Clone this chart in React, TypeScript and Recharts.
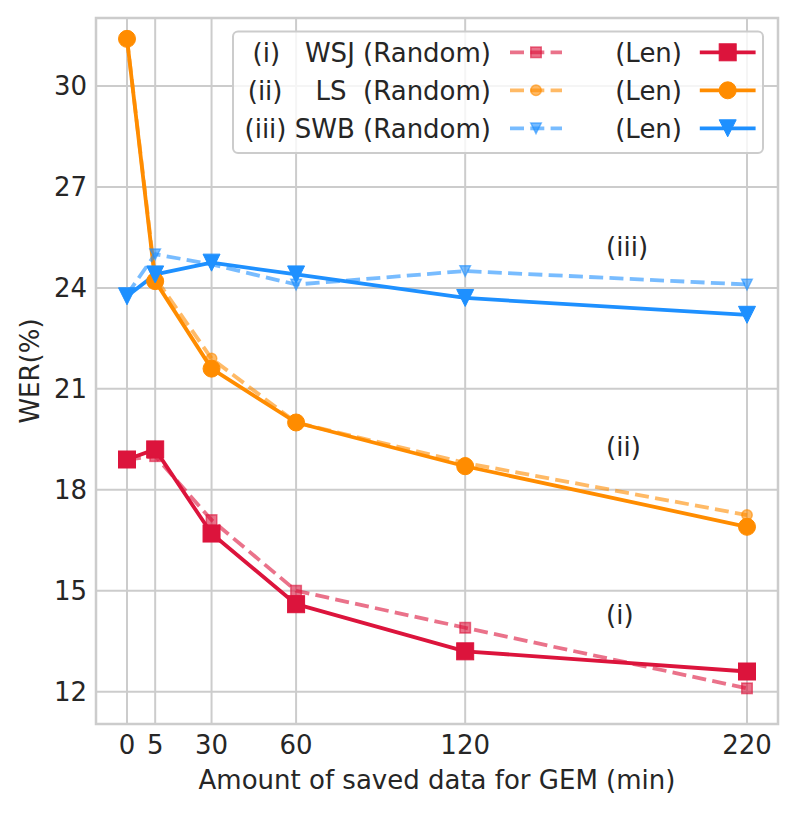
import {
  ComposedChart,
  Line,
  Scatter,
  XAxis,
  YAxis,
  CartesianGrid,
  ReferenceArea,
} from 'recharts';

// x positions used on the axis (the "5" point is drawn at 10 in the figure)
const xPositions = [0, 10, 30, 60, 120, 220];
const xTickLabels = ['0', '5', '30', '60', '120', '220'];
const yTicks = [12, 15, 18, 21, 24, 27, 30];

const wsjRandom = [18.9, 19.0, 17.1, 15.0, 13.9, 12.1];
const wsjLen = [18.9, 19.2, 16.7, 14.6, 13.2, 12.6];
const lsRandom = [31.4, 24.3, 21.9, 20.0, 18.8, 17.25];
const lsLen = [31.4, 24.2, 21.6, 20.0, 18.7, 16.9];
const swbRandom = [23.8, 25.0, 24.7, 24.1, 24.5, 24.1];
const swbLen = [23.75, 24.4, 24.75, 24.4, 23.7, 23.2];

const datasetTags = ['(i)   WSJ', '(ii)    LS ', '(iii) SWB'];
const datasetColors = ['#DC143C', '#FF8C00', '#1E90FF'];
const datasetShapes = ['square', 'circle', 'triangle'];

const annotationText = ['(i)', '(ii)', '(iii)'];
const annotationX = [170, 170, 170];
const annotationY = [14.25, 19.25, 25.2];

const X_DOMAIN: [number, number] = [-11, 231];
const Y_DOMAIN: [number, number] = [11.04, 32.02];

const FONT = "'DejaVu Sans', sans-serif";
const TEXT = '#262626';
const GRID = '#cccccc';
const LINE_W = 3.8;
const DASH = '14 6.3';

const rows = xPositions.map((x, i) => ({
  x,
  wsjRandom: wsjRandom[i],
  wsjLen: wsjLen[i],
  lsRandom: lsRandom[i],
  lsLen: lsLen[i],
  swbRandom: swbRandom[i],
  swbLen: swbLen[i],
}));

const annotations = annotationText.map((text, i) => ({
  x: annotationX[i],
  y: annotationY[i],
  text,
}));

const series = [
  { key: 'wsjRandom', ds: 0, faded: true },
  { key: 'wsjLen', ds: 0, faded: false },
  { key: 'lsRandom', ds: 1, faded: true },
  { key: 'lsLen', ds: 1, faded: false },
  { key: 'swbRandom', ds: 2, faded: true },
  { key: 'swbLen', ds: 2, faded: false },
];

function Marker({ cx, cy, shape, color, faded }: any) {
  const size = faded ? 10.5 : 17;
  const h = size / 2;
  const style = faded
    ? { fill: color, fillOpacity: 0.6, stroke: color, strokeOpacity: 0.6, strokeWidth: 1.5 }
    : { fill: color, stroke: color, strokeWidth: 1 };
  if (shape === 'square') {
    return <rect x={cx - h} y={cy - h} width={size} height={size} {...style} />;
  }
  if (shape === 'circle') {
    return <circle cx={cx} cy={cy} r={h} {...style} />;
  }
  return (
    <polygon
      points={`${cx - h},${cy - h} ${cx + h},${cy - h} ${cx},${cy + h}`}
      {...style}
    />
  );
}

function LegendBox() {
  return (
    <svg
      width={796}
      height={813}
      style={{ position: 'absolute', left: 0, top: 0, pointerEvents: 'none' }}
    >
      <rect
        x={233}
        y={31.5}
        width={530}
        height={121.5}
        rx={5}
        fill="#ffffff"
        fillOpacity={0.8}
        stroke={GRID}
        strokeWidth={2}
      />
      {datasetTags.map((tag, i) => {
        const cy = 52.3 + i * 38;
        const color = datasetColors[i];
        const shape = datasetShapes[i];
        return (
          <g key={tag}>
            <text
              x={491}
              y={cy + 9.3}
              textAnchor="end"
              xmlSpace="preserve"
              style={{ whiteSpace: 'pre' }}
              fontFamily={FONT}
              fontSize={26}
              fill={TEXT}
            >
              {`${tag} (Random)`}
            </text>
            <line
              x1={510}
              x2={562}
              y1={cy}
              y2={cy}
              stroke={color}
              strokeOpacity={0.6}
              strokeWidth={LINE_W}
              strokeDasharray={DASH}
            />
            <Marker cx={536} cy={cy} shape={shape} color={color} faded />
            <text
              x={682}
              y={cy + 9.3}
              textAnchor="end"
              fontFamily={FONT}
              fontSize={26}
              fill={TEXT}
            >
              (Len)
            </text>
            <line
              x1={701.7}
              x2={753.7}
              y1={cy}
              y2={cy}
              stroke={color}
              strokeWidth={LINE_W}
              strokeLinecap="square"
            />
            <Marker cx={727.7} cy={cy} shape={shape} color={color} faded={false} />
          </g>
        );
      })}
    </svg>
  );
}

const renderXLabel = (props: any) => {
  const vb = props.viewBox;
  return (
    <text
      x={vb.x + vb.width / 2}
      y={vb.y + 65}
      textAnchor="middle"
      fontFamily={FONT}
      fontSize={26}
      fill={TEXT}
    >
      Amount of saved data for GEM (min)
    </text>
  );
};

const renderYLabel = (props: any) => {
  const vb = props.viewBox;
  const cx = 38.5;
  const cy = vb.y + vb.height / 2;
  return (
    <text
      x={cx}
      y={cy}
      transform={`rotate(-90, ${cx}, ${cy})`}
      textAnchor="middle"
      fontFamily={FONT}
      fontSize={26}
      fill={TEXT}
    >
      WER(%)
    </text>
  );
};

export default function App() {
  return (
    <div
      style={{
        position: 'absolute',
        left: 0,
        top: 0,
        width: 796,
        height: 813,
        background: '#ffffff',
      }}
    >
      <ComposedChart
        width={796}
        height={813}
        data={rows}
        margin={{ top: 18, right: 18, bottom: 0, left: 0 }}
      >
        <CartesianGrid stroke={GRID} strokeWidth={2} />
        <XAxis
          type="number"
          dataKey="x"
          domain={X_DOMAIN}
          ticks={xPositions}
          interval={0}
          allowDataOverflow
          height={89}
          axisLine={false}
          tickLine={false}
          tickSize={0}
          tickMargin={11.5}
          tick={{ fill: TEXT, fontSize: 26, fontFamily: FONT }}
          tickFormatter={(v: number) => xTickLabels[xPositions.indexOf(v)]}
          label={renderXLabel}
        />
        <YAxis
          type="number"
          domain={Y_DOMAIN}
          ticks={yTicks}
          interval={0}
          allowDataOverflow
          width={96}
          axisLine={false}
          tickLine={false}
          tickSize={0}
          tickMargin={9}
          tick={{ fill: TEXT, fontSize: 26, fontFamily: FONT }}
          label={renderYLabel}
        />
        <ReferenceArea
          x1={X_DOMAIN[0]}
          x2={X_DOMAIN[1]}
          y1={Y_DOMAIN[0]}
          y2={Y_DOMAIN[1]}
          fill="none"
          stroke={GRID}
          strokeWidth={2.5}
          ifOverflow="visible"
        />
        {series.map((s) => {
          const color = datasetColors[s.ds];
          const shape = datasetShapes[s.ds];
          return (
            <Line
              key={s.key}
              dataKey={s.key}
              type="linear"
              stroke={color}
              strokeOpacity={s.faded ? 0.6 : 1}
              strokeWidth={LINE_W}
              strokeDasharray={s.faded ? DASH : undefined}
              strokeLinejoin="round"
              isAnimationActive={false}
              activeDot={false}
              dot={(p: any) => (
                <Marker
                  key={`${s.key}-${p.index}`}
                  cx={p.cx}
                  cy={p.cy}
                  shape={shape}
                  color={color}
                  faded={s.faded}
                />
              )}
            />
          );
        })}
        <Scatter
          data={annotations}
          dataKey="y"
          isAnimationActive={false}
          shape={(p: any) => (
            <text
              x={p.cx}
              y={p.cy + 8.2}
              textAnchor="start"
              fontFamily={FONT}
              fontSize={26}
              fill={TEXT}
            >
              {p.payload.text}
            </text>
          )}
        />
      </ComposedChart>
      <LegendBox />
    </div>
  );
}
